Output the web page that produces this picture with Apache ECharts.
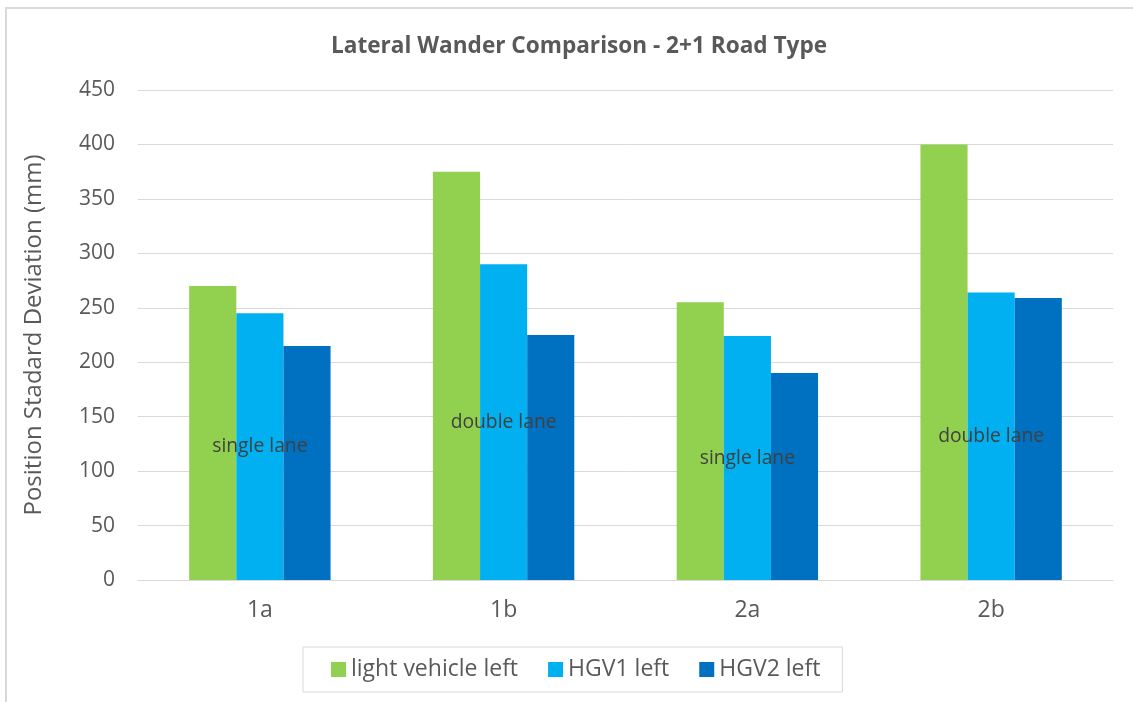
<!DOCTYPE html>
<html>
<head>
<meta charset="utf-8">
<script src="https://cdn.jsdelivr.net/npm/echarts@6/dist/echarts.min.js"></script>
<style>
html,body{margin:0;padding:0;background:#fff;}
#c{width:1133px;height:702px;}
</style>
</head>
<body>
<div id="c"></div>
<script>
const categories = ['1a', '1b', '2a', '2b'];
const lightVehicle = [270, 375, 255, 400];
const hgv1 = [245, 290, 224, 264];
const hgv2 = [215, 225, 190, 259];
const laneLabels = ['single lane', 'double lane', 'single lane', 'double lane'];
const yTicks = { min: 0, max: 450, interval: 50 };

const FONT = '"Open Sans", Lato, sans-serif';
const chart = echarts.init(document.getElementById('c'), null, { renderer: 'canvas' });
chart.setOption({
  animation: false,
  backgroundColor: '#ffffff',
  textStyle: { fontFamily: FONT },
  graphic: [{
    type: 'rect',
    shape: { x: 6, y: 8, width: 1200, height: 800 },
    style: { fill: 'none', stroke: '#d9d9d9', lineWidth: 2 },
    silent: true, z: -1
  }],
  title: {
    text: 'Lateral Wander Comparison - 2+1 Road Type',
    left: 326, top: 30,
    textStyle: { fontFamily: FONT, fontSize: 22.6, fontWeight: 'bold', color: '#595959' }
  },
  grid: { left: 138, right: 20, top: 90, bottom: 122, containLabel: false },
  legend: {
    bottom: 10, left: 303,
    itemWidth: 15, itemHeight: 15, itemGap: 30,
    icon: 'rect',
    padding: [11, 22, 11, 28],
    borderColor: '#d9d9d9', borderWidth: 1,
    textStyle: { fontFamily: FONT, fontSize: 23, color: '#595959' }
  },
  xAxis: {
    type: 'category', data: categories,
    axisLine: { lineStyle: { color: '#d9d9d9', width: 1 } },
    axisTick: { show: false },
    axisLabel: { fontFamily: FONT, fontSize: 23, color: '#595959', margin: 19 }
  },
  yAxis: {
    type: 'value', min: yTicks.min, max: yTicks.max, interval: yTicks.interval,
    name: 'Position Stadard Deviation (mm)',
    nameLocation: 'middle', nameRotate: 90, nameGap: 92,
    nameTextStyle: { fontFamily: FONT, fontSize: 24, color: '#595959' },
    axisLine: { show: false },
    axisTick: { show: false },
    splitLine: { lineStyle: { color: '#d9d9d9', width: 1 } },
    axisLabel: { fontFamily: FONT, fontSize: 21, color: '#595959', margin: 23 }
  },
  series: [
    { name: 'light vehicle left', type: 'bar', data: lightVehicle, barGap: '0%', barCategoryGap: '42%',
      itemStyle: { color: '#92d050' } },
    { name: 'HGV1 left', type: 'bar', data: hgv1, barGap: '0%', barCategoryGap: '42%',
      itemStyle: { color: '#00b0f0' },
      label: { show: true, position: 'inside', formatter: p => laneLabels[p.dataIndex],
        fontFamily: FONT, fontSize: 19.3, color: '#404040' } },
    { name: 'HGV2 left', type: 'bar', data: hgv2, barGap: '0%', barCategoryGap: '42%',
      itemStyle: { color: '#0070c0' } }
  ]
});
</script>
</body>
</html>
